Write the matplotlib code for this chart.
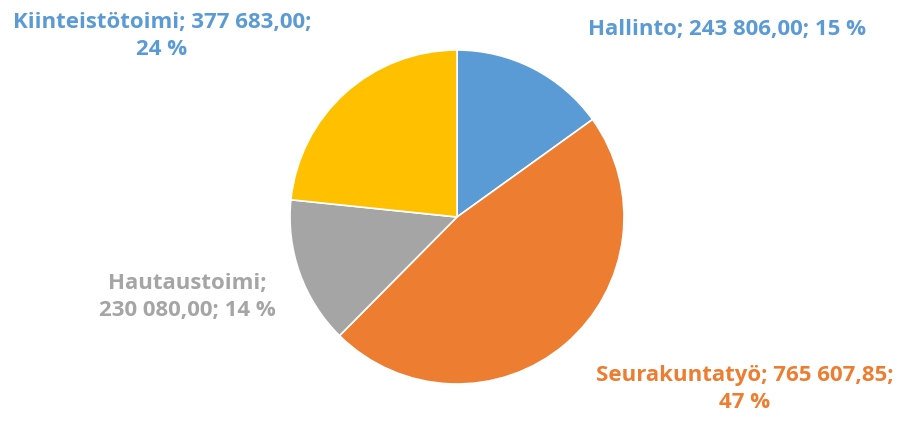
import matplotlib
matplotlib.use("Agg")
import matplotlib.pyplot as plt

# data
categories = ["Hallinto", "Seurakuntatyö", "Hautaustoimi", "Kiinteistötoimi"]
values = [243806.00, 765607.85, 230080.00, 377683.00]
percents = [15, 47, 14, 24]
colors = ["#5B9BD5", "#ED7D31", "#A5A5A5", "#FFC000"]
label_colors = ["#5B9BD5", "#ED7D31", "#A5A5A5", "#5B9BD5"]


def fi_number(v):
    s = f"{v:,.2f}"
    return s.replace(",", " ").replace(".", ",")


W, H = 905, 421
fig = plt.figure(figsize=(W / 100, H / 100), dpi=100)
plt.rcParams["font.family"] = ["Open Sans", "DejaVu Sans"]

# pie: centre (457, 217), radius 167 px
cx, cy, r = 457, 217, 167
ax = fig.add_axes([(cx - r) / W, (H - cy - r) / H, 2 * r / W, 2 * r / H])
ax.pie(values, colors=colors, startangle=90, counterclock=False,
       wedgeprops=dict(linewidth=1.2, edgecolor="white"), radius=1)
ax.set_xlim(-1, 1)
ax.set_ylim(-1, 1)
ax.set_aspect("equal")
ax.axis("off")

# label positions in pixels (centre x, centre y), text layout
label_pos = [(727, 29), (745, 389), (187, 297), (162, 36)]
label_text = [
    f"{categories[0]}; {fi_number(values[0])}; {percents[0]} %",
    f"{categories[1]}; {fi_number(values[1])};\n{percents[1]} %",
    f"{categories[2]};\n{fi_number(values[2])}; {percents[2]} %",
    f"{categories[3]}; {fi_number(values[3])};\n{percents[3]} %",
]
for (x, y), txt, c in zip(label_pos, label_text, label_colors):
    fig.text(x / W, 1 - y / H, txt, color=c, fontsize=16, fontweight="bold",
             ha="center", va="center", linespacing=1.4)

fig.savefig("out.png", dpi=100)
